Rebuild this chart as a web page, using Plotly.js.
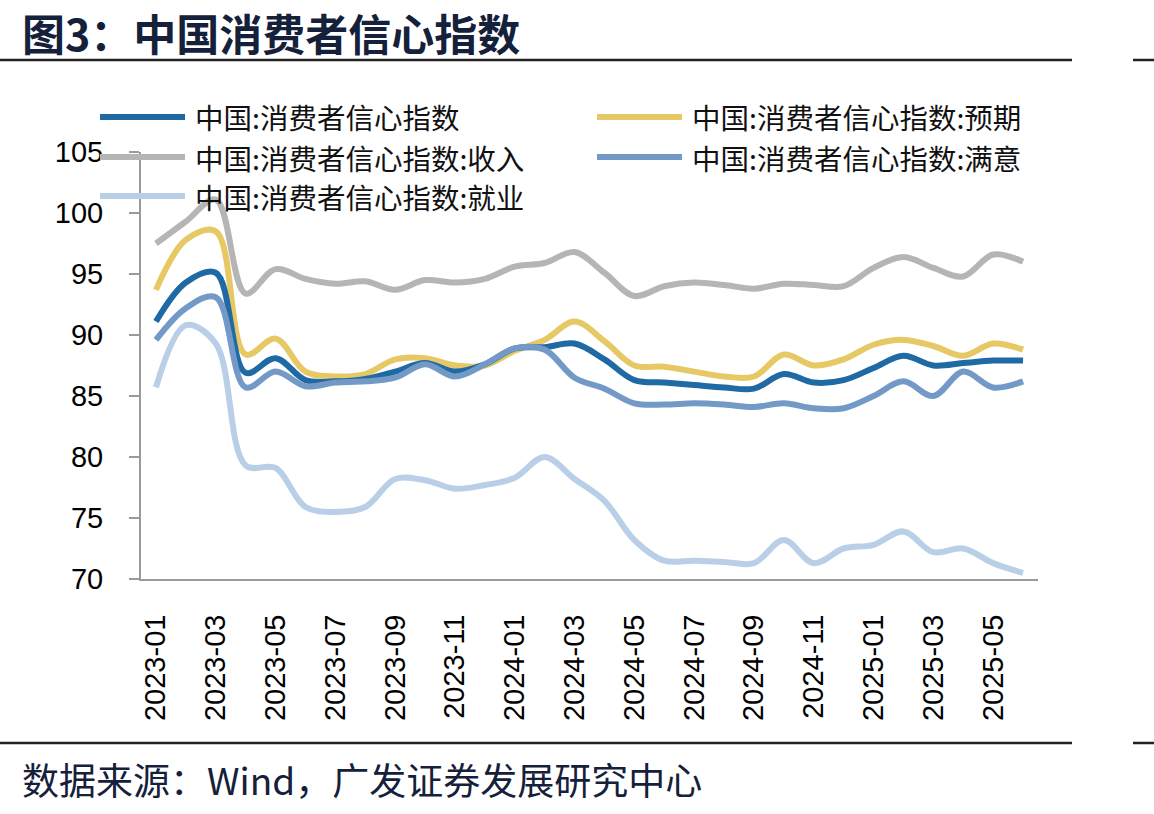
<!DOCTYPE html>
<html>
<head>
<meta charset="utf-8">
<script src="https://cdn.plot.ly/plotly-3.0.1.min.js"></script>
<style>html,body{margin:0;padding:0;background:#fff;}#chart{width:1154px;height:814px;}</style>
</head>
<body>
<div id="chart"></div>
<script>
const months = ["2023-01","2023-02","2023-03","2023-04","2023-05","2023-06","2023-07","2023-08","2023-09","2023-10","2023-11","2023-12",
"2024-01","2024-02","2024-03","2024-04","2024-05","2024-06","2024-07","2024-08","2024-09","2024-10","2024-11","2024-12",
"2025-01","2025-02","2025-03","2025-04","2025-05","2025-06"];
const tickLabels = ["2023-01","2023-03","2023-05","2023-07","2023-09","2023-11","2024-01","2024-03","2024-05","2024-07","2024-09","2024-11","2025-01","2025-03","2025-05"];

const seriesNames = ["中国:消费者信心指数","中国:消费者信心指数:预期","中国:消费者信心指数:收入","中国:消费者信心指数:满意","中国:消费者信心指数:就业"];
const confidence = [91.1,94.3,95.1,86.9,88.1,86.3,86.2,86.4,87.0,87.7,87.0,87.6,
  88.9,89.0,89.3,88.0,86.3,86.1,85.9,85.7,85.6,86.8,86.1,86.3,
  87.3,88.3,87.5,87.7,87.9,87.9];
const expectation = [93.7,97.8,98.5,88.4,89.7,87.0,86.6,86.8,88.0,88.1,87.5,87.5,
  88.7,89.6,91.1,89.5,87.5,87.4,87.0,86.6,86.6,88.4,87.5,88.0,
  89.2,89.6,89.1,88.3,89.3,88.8];
const income = [97.5,99.3,101.1,93.4,95.4,94.6,94.2,94.4,93.7,94.5,94.3,94.6,
  95.6,95.9,96.8,95.1,93.2,94.0,94.3,94.1,93.8,94.2,94.1,94.0,
  95.5,96.4,95.5,94.8,96.6,96.0];
const satisfaction = [89.6,92.2,93.1,85.7,87.0,85.8,86.1,86.2,86.5,87.6,86.6,87.6,
  88.9,88.8,86.5,85.6,84.4,84.3,84.4,84.3,84.1,84.4,84.0,84.0,
  85.0,86.2,85.0,87.0,85.7,86.2];
const employment = [85.7,90.8,89.3,79.3,79.1,75.9,75.5,75.9,78.2,78.1,77.4,77.7,
  78.3,80.0,78.2,76.4,73.2,71.5,71.5,71.4,71.3,73.2,71.3,72.5,
  72.8,73.9,72.2,72.5,71.3,70.5];

const colors = ["#1f6aa5","#e6c865","#b5b5b5","#7399c6","#b9cfe7"];
const seriesData = [confidence, expectation, income, satisfaction, employment];
const drawOrder = [4,2,1,0,3];

const W = 1154, H = 814;
const L = 141, R = 116, T = 152, B = 235;
const pw = W - L - R, ph = H - T - B;
const px = x => (x - L) / pw;
const py = y => (H - B - y) / ph;

const traces = drawOrder.map(i => ({
  type: "scatter", mode: "lines", x: months, y: seriesData[i], name: seriesNames[i],
  line: {color: colors[i], width: 6, shape: "spline", smoothing: 1},
  showlegend: false, hoverinfo: "x+y+name"
}));

const shapes = [];
const annotations = [];
// rules
[[60],[743]].forEach(([yy]) => {
  shapes.push({type:"line", xref:"paper", yref:"paper", x0:px(0), x1:px(1072), y0:py(yy), y1:py(yy), line:{color:"#222", width:2.5}});
  shapes.push({type:"line", xref:"paper", yref:"paper", x0:px(1133), x1:px(1154), y0:py(yy), y1:py(yy), line:{color:"#222", width:2.5}});
});
// custom legend
const legendPos = [[100,117],[597,117],[100,157],[597,157],[100,196]];
legendPos.forEach(([lx,ly], i) => {
  shapes.push({type:"line", xref:"paper", yref:"paper", x0:px(lx), x1:px(lx+85), y0:py(ly), y1:py(ly),
    line:{color:colors[i], width:6}});
  annotations.push({xref:"paper", yref:"paper", x:px(lx+93), y:py(ly), xanchor:"left", yanchor:"middle",
    text: seriesNames[i], showarrow:false, font:{family:"Noto Sans CJK SC", size:28.5, color:"#111"}});
});
annotations.push({xref:"paper", yref:"paper", x:px(20), y:py(32), xanchor:"left", yanchor:"middle",
  text:"<b>图3：中国消费者信心指数</b>", showarrow:false, font:{family:"Noto Sans CJK SC", size:43, color:"#15213b"}});
annotations.push({xref:"paper", yref:"paper", x:px(20), y:py(779), xanchor:"left", yanchor:"middle",
  text:"数据来源：Wind，广发证券发展研究中心", showarrow:false, font:{family:"Noto Sans CJK SC", size:37, color:"#15213b"}});

const layout = {
  width: W, height: H,
  margin: {l:L, r:R, t:T, b:B, pad:0},
  paper_bgcolor: "#fff", plot_bgcolor: "#fff",
  showlegend: false,
  xaxis: {type:"category", range:[-0.5, 29.5], tickvals: tickLabels, ticktext: tickLabels, tickangle:-90,
    tickfont:{family:"Liberation Sans, Arial", size:29, color:"#000"}, showline:true, linecolor:"#9a9a9a", linewidth:2,
    ticks:"", showgrid:false, zeroline:false, ticklabelstandoff:22, fixedrange:true},
  yaxis: {range:[70,105], tick0:70, dtick:5, ticks:"outside", ticklen:10, tickwidth:2, tickcolor:"#9a9a9a",
    showline:true, linecolor:"#9a9a9a", linewidth:2, showgrid:false, zeroline:false,
    tickfont:{family:"Liberation Sans, Arial", size:29, color:"#000"}, ticklabelstandoff:20, fixedrange:true},
  shapes: shapes, annotations: annotations
};
Plotly.newPlot("chart", traces, layout, {displayModeBar:false, staticPlot:true});
</script>
</body>
</html>
